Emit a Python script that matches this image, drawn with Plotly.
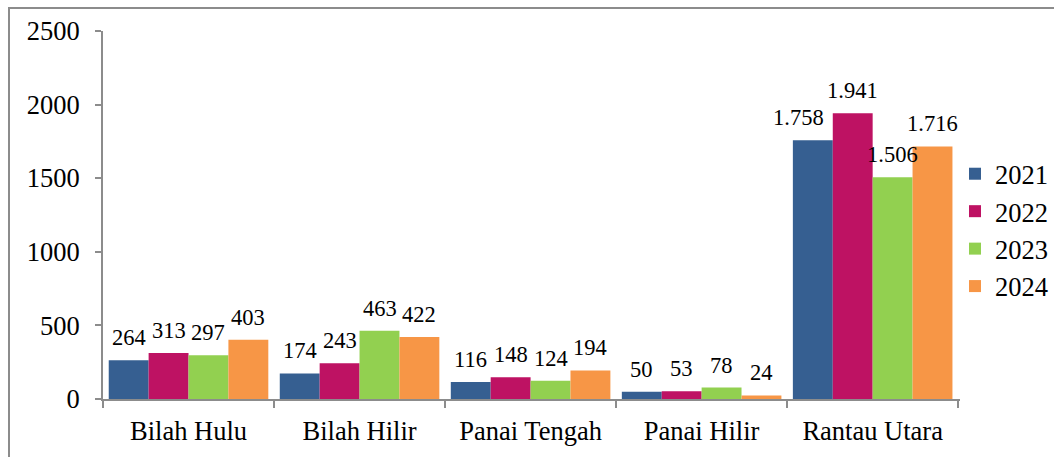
import plotly.graph_objects as go

categories = ["Bilah Hulu", "Bilah Hilir", "Panai Tengah", "Panai Hilir", "Rantau Utara"]
years = ["2021", "2022", "2023", "2024"]
v2021 = [264, 174, 116, 50, 1758]
v2022 = [313, 243, 148, 53, 1941]
v2023 = [297, 463, 124, 78, 1506]
v2024 = [403, 422, 194, 24, 1716]
series = [v2021, v2022, v2023, v2024]
colors = ["#365F91", "#BE1263", "#92D050", "#F79646"]
y_ticks = [0, 500, 1000, 1500, 2000, 2500]

FONT = "Liberation Serif"
AXIS_COLOR = "#8C8C8C"
BARGAP = 0.067

fig = go.Figure()
for name, vals, col in zip(years, series, colors):
    fig.add_trace(go.Bar(x=categories, y=vals, name=name, marker=dict(color=col, line=dict(width=0))))

def fmt(v):
    return f"{v:,}".replace(",", ".")

n = len(series)
w = (1 - BARGAP) / n
annotations = []
for i, vals in enumerate(series):
    for j, v in enumerate(vals):
        xshift = -14 if (i == 0 and v >= 1000) else 0
        annotations.append(dict(
            x=j + (i - (n - 1) / 2) * w, y=v, xref="x", yref="y",
            text=fmt(v), showarrow=False, yanchor="bottom", yshift=8, xshift=xshift,
            font=dict(family=FONT, size=22.5, color="black")))

W, H = 1054, 457
L, R, T, B = 103, 94, 31, 58
pw, ph = W - L - R, H - T - B
def px_x(p):
    return (p - L) / pw
def px_y(p):
    return (H - B - p) / ph

fig.update_layout(
    width=W, height=H,
    margin=dict(l=L, r=R, t=T, b=B, autoexpand=False),
    paper_bgcolor="white", plot_bgcolor="white",
    barmode="group", bargap=BARGAP, bargroupgap=0,
    font=dict(family=FONT, size=26.5, color="black"),
    annotations=annotations,
    legend=dict(x=px_x(955), y=px_y(230), xanchor="left", yanchor="middle",
                font=dict(family=FONT, size=26.5, color="black"),
                tracegroupgap=0, itemsizing="constant", bgcolor="rgba(0,0,0,0)"),
    shapes=[dict(type="rect", xref="paper", yref="paper",
                 x0=px_x(9), x1=px_x(1070), y0=px_y(470), y1=px_y(8),
                 line=dict(color=AXIS_COLOR, width=2), layer="below")],
    xaxis=dict(showline=True, linecolor=AXIS_COLOR, linewidth=2, ticks="outside",
               tickson="boundaries", ticklen=7, tickcolor=AXIS_COLOR, tickwidth=2,
               showgrid=False, zeroline=False, tickfont=dict(family=FONT, size=26.5),
               ticklabelstandoff=7),
    yaxis=dict(range=[0, 2500], tickvals=y_ticks, showline=True, linecolor=AXIS_COLOR,
               linewidth=2, ticks="outside", ticklen=6, tickcolor=AXIS_COLOR, tickwidth=2,
               showgrid=False, zeroline=False, tickfont=dict(family=FONT, size=26.5),
               ticklabelstandoff=10),
)

fig.write_html("out.html", config={"displayModeBar": False},
               post_script="document.body.style.margin='0px';")
